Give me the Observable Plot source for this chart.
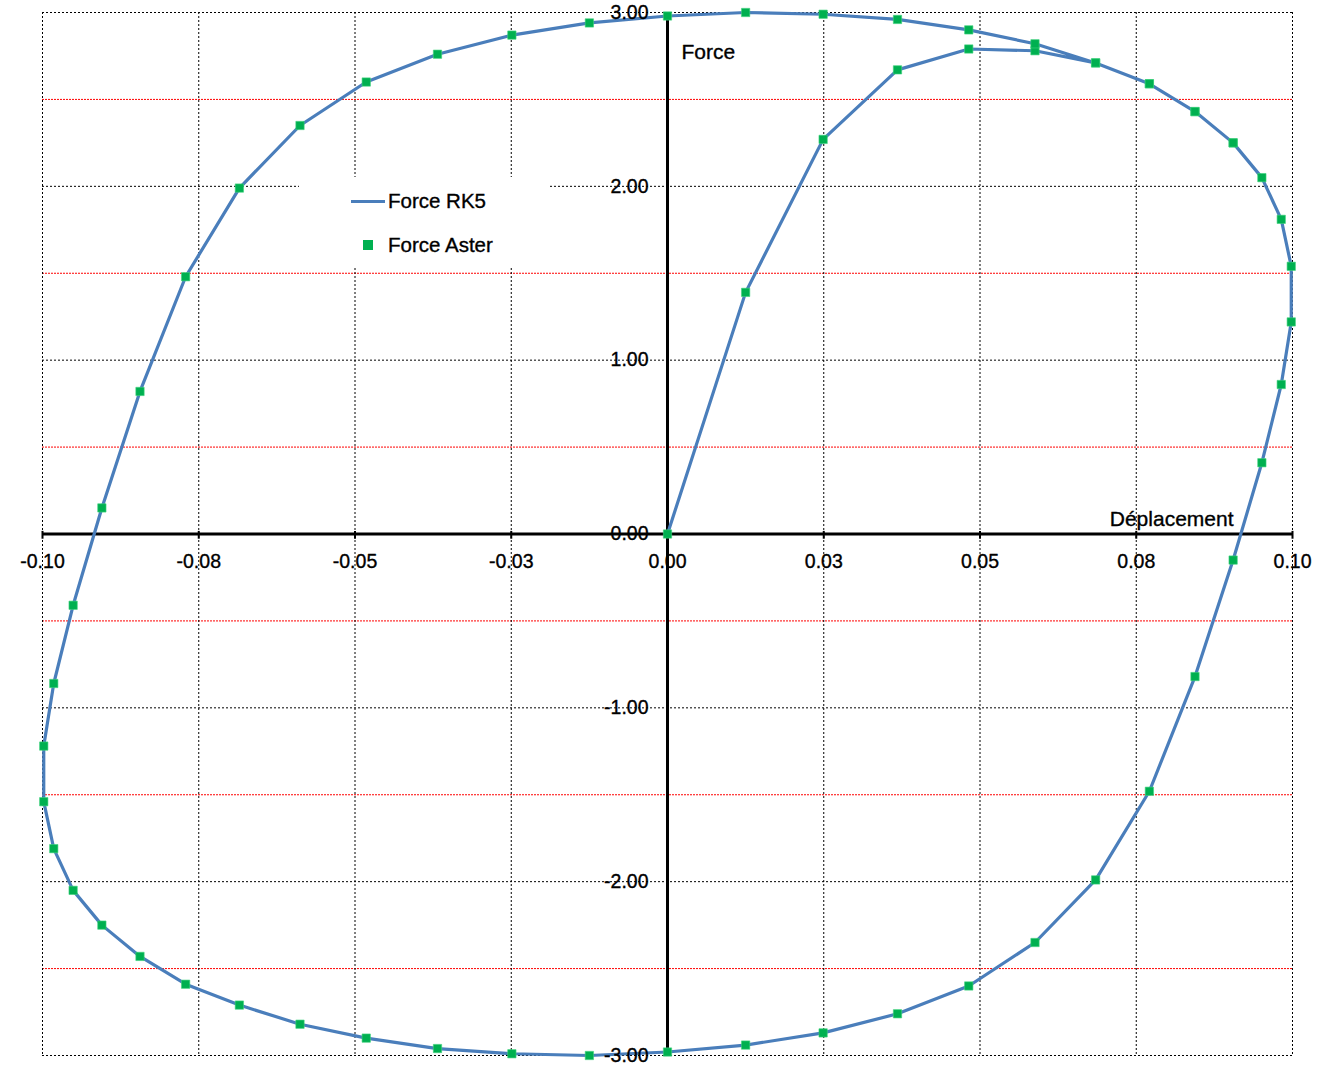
<!DOCTYPE html>
<html>
<head>
<meta charset="utf-8">
<script src="https://cdn.jsdelivr.net/npm/d3@7"></script>
<script src="https://cdn.jsdelivr.net/npm/@observablehq/plot@0.6"></script>
<style>
  body { margin: 0; background: #fff; }
  #wrap { position: relative; width: 1325px; height: 1068px; font-family: "Liberation Sans", Arial, sans-serif; }
  #legend { position: absolute; left: 299px; top: 177px; width: 250px; height: 89px; background: #fff; }
  .lg-row { position: absolute; left: 0; display: flex; align-items: center; font-size: 20.5px; color: #000; -webkit-text-stroke: 0.35px #000; }
  .lg-line { display: inline-block; width: 34px; height: 3px; background: #4A7EBB; margin-left: 52px; margin-right: 3px; }
  .lg-sq { display: inline-block; width: 10px; height: 10px; background: #00B050; margin-left: 64px; margin-right: 15px; }
</style>
</head>
<body>
<div id="wrap"></div>
<script>
// Displacement (x) and force (y) values
const displacement = [0, 0.0125, 0.0249, 0.0368, 0.0482, 0.0588, 0.0685, 0.0771, 0.0844, 0.0905, 0.0951, 0.0982, 0.0998, 0.0998, 0.0982, 0.0951, 0.0905, 0.0844, 0.0771, 0.0685, 0.0588, 0.0482, 0.0368, 0.0249, 0.0125, 0, -0.0125, -0.0249, -0.0368, -0.0482, -0.0588, -0.0685, -0.0771, -0.0844, -0.0905, -0.0951, -0.0982, -0.0998, -0.0998, -0.0982, -0.0951, -0.0905, -0.0844, -0.0771, -0.0685, -0.0588, -0.0482, -0.0368, -0.0249, -0.0125, 0, 0.0125, 0.0249, 0.0368, 0.0482, 0.0588, 0.0685, 0.0771, 0.0844, 0.0905];
const forceRK5 = [0, 1.39, 2.27, 2.67, 2.79, 2.78, 2.71, 2.59, 2.43, 2.25, 2.05, 1.81, 1.54, 1.22, 0.86, 0.41, -0.15, -0.82, -1.48, -1.99, -2.35, -2.60, -2.76, -2.87, -2.94, -2.98, -3.00, -2.99, -2.96, -2.90, -2.82, -2.71, -2.59, -2.43, -2.25, -2.05, -1.81, -1.54, -1.22, -0.86, -0.41, 0.15, 0.82, 1.48, 1.99, 2.35, 2.60, 2.76, 2.87, 2.94, 2.98, 3.00, 2.99, 2.96, 2.90, 2.82, 2.71, 2.59, 2.43, 2.25];
const forceAster = [0, 1.39, 2.27, 2.67, 2.79, 2.78, 2.71, 2.59, 2.43, 2.25, 2.05, 1.81, 1.54, 1.22, 0.86, 0.41, -0.15, -0.82, -1.48, -1.99, -2.35, -2.60, -2.76, -2.87, -2.94, -2.98, -3.00, -2.99, -2.96, -2.90, -2.82, -2.71, -2.59, -2.43, -2.25, -2.05, -1.81, -1.54, -1.22, -0.86, -0.41, 0.15, 0.82, 1.48, 1.99, 2.35, 2.60, 2.76, 2.87, 2.94, 2.98, 3.00, 2.99, 2.96, 2.90, 2.82, 2.71, 2.59, 2.43, 2.25];

const xTicks = [-0.1, -0.075, -0.05, -0.025, 0, 0.025, 0.05, 0.075, 0.1];
const xTickLabels = ["-0.10", "-0.08", "-0.05", "-0.03", "0.00", "0.03", "0.05", "0.08", "0.10"];
const yTicks = [-3, -2, -1, 0, 1, 2, 3];
const yTickLabels = ["-3.00", "-2.00", "-1.00", "0.00", "1.00", "2.00", "3.00"];
const yMinor = [-2.5, -1.5, -0.5, 0.5, 1.5, 2.5];

const rk5 = displacement.map((d, i) => ({x: d, y: forceRK5[i]}));
const aster = displacement.map((d, i) => ({x: d, y: forceAster[i]}));

const txt = {fill: "#000", stroke: "#000", strokeWidth: 0.35};

const chart = Plot.plot({
  width: 1325,
  height: 1068,
  marginLeft: 42,
  marginRight: 33,
  marginTop: 12,
  marginBottom: 13,
  x: {domain: [-0.1, 0.1], axis: null},
  y: {domain: [-3, 3], axis: null},
  style: {fontFamily: '"Liberation Sans", Arial, sans-serif', background: "#fff", overflow: "visible"},
  marks: [
    Plot.ruleY(yMinor, {stroke: "#ff0000", strokeWidth: 1, strokeDasharray: "2,1"}),
    Plot.ruleX(xTicks, {stroke: "#000", strokeWidth: 1, strokeDasharray: "2,2"}),
    Plot.ruleY(yTicks, {stroke: "#000", strokeWidth: 1, strokeDasharray: "2,2"}),
    Plot.ruleY([0], {stroke: "#000", strokeWidth: 3}),
    Plot.ruleX([0], {stroke: "#000", strokeWidth: 3}),
    Plot.ruleX(xTicks, {x: d => d, y1: -0.03, y2: 0.015, stroke: "#000", strokeWidth: 2}),
    Plot.line(rk5, {x: "x", y: "y", stroke: "#4A7EBB", strokeWidth: 3.2, curve: "linear"}),
    Plot.dot(aster, {x: "x", y: "y", symbol: "square", r: 4.7, fill: "#00B050", stroke: "#3fd37e", strokeWidth: 0.6}),
    Plot.text(xTicks, {x: d => d, y: 0, text: (d, i) => xTickLabels[i], dy: 28, fontSize: 19.5, ...txt}),
    Plot.text(yTicks, {x: 0, y: d => d, text: (d, i) => yTickLabels[i], dx: -19, textAnchor: "end", fontSize: 19.5, ...txt}),
    Plot.text(["Force"], {x: 0, y: 3, dx: 14, dy: 40, textAnchor: "start", fontSize: 21, ...txt}),
    Plot.text(["Déplacement"], {x: 0.1, y: 0, dx: -59, dy: -15, textAnchor: "end", fontSize: 21, ...txt})
  ]
});

const wrap = document.getElementById("wrap");
wrap.appendChild(chart);
const legend = document.createElement("div");
legend.id = "legend";
legend.innerHTML = '<div class="lg-row" style="top:12px"><span class="lg-line"></span><span>Force RK5</span></div>' +
                   '<div class="lg-row" style="top:56px"><span class="lg-sq"></span><span>Force Aster</span></div>';
wrap.appendChild(legend);
</script>
</body>
</html>
